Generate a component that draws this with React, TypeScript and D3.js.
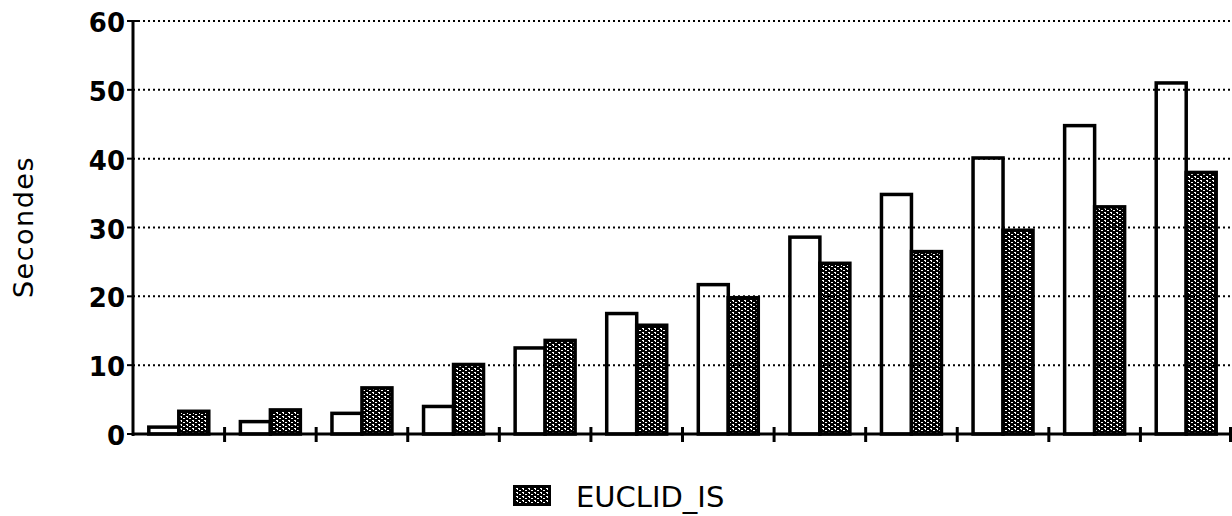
import React from "react";
import * as d3 from "d3";

const categories = ["1", "2", "3", "4", "5", "6", "7", "8", "9", "10", "11", "12"];
const seriesWhite = [1.0, 1.8, 3.0, 4.0, 12.5, 17.5, 21.7, 28.6, 34.8, 40.1, 44.8, 51.0];
const euclidIS = [3.3, 3.5, 6.7, 10.1, 13.6, 15.8, 19.8, 24.8, 26.5, 29.6, 33.0, 38.0];
const yTicks = [0, 10, 20, 30, 40, 50, 60];
const seriesKeys = ["white", "EUCLID_IS"];
const yLabel = "Secondes";
const legendLabel = "EUCLID_IS";

const W = 1232;
const H = 516;
const left = 133;
const right = 1232;
const top = 21;
const bottom = 434;

export default function App() {
  const x = d3
    .scaleBand<string>()
    .domain(categories)
    .range([left, right])
    .paddingInner(0.345)
    .paddingOuter(0.1725);
  const xi = d3.scaleBand<string>().domain(seriesKeys).range([0, x.bandwidth()]).padding(0);
  const y = d3.scaleLinear().domain([0, 60]).range([bottom, top]);
  const step = x.step();
  const font = "'DejaVu Sans', Arial, sans-serif";

  return (
    <svg
      width={W}
      height={H}
      style={{ position: "absolute", left: 0, top: 0, background: "#fff" }}
    >
      <defs>
        <pattern id="hatch" width="6" height="4" patternUnits="userSpaceOnUse">
          <rect width="6" height="4" fill="#000" />
          <rect x="0" y="0" width="2" height="1" fill="#fff" />
          <rect x="1" y="1" width="1" height="1" fill="#fff" />
          <rect x="3" y="2" width="2" height="1" fill="#fff" />
        </pattern>
      </defs>

      {/* bars */}
      {categories.map((c, i) => {
        const x0 = x(c)!;
        const bw = xi.bandwidth();
        return (
          <g key={c}>
            <rect
              x={x0 + xi("white")!}
              y={y(seriesWhite[i])}
              width={bw}
              height={bottom - y(seriesWhite[i])}
              fill="#fff"
              stroke="#000"
              strokeWidth={3.5}
            />
            <rect
              x={x0 + xi("EUCLID_IS")!}
              y={y(euclidIS[i])}
              width={bw}
              height={bottom - y(euclidIS[i])}
              fill="url(#hatch)"
              stroke="#000"
              strokeWidth={3.5}
            />
          </g>
        );
      })}

      {/* gridlines */}
      {yTicks
        .filter((t) => t > 0)
        .map((t) => (
          <line
            key={t}
            x1={left}
            x2={right}
            y1={y(t)}
            y2={y(t)}
            stroke="#000"
            strokeWidth={2}
            strokeDasharray="2 3"
          />
        ))}

      {/* y axis */}
      <line x1={left} x2={left} y1={top - 1} y2={bottom + 2} stroke="#000" strokeWidth={3} />
      {yTicks.map((t) => (
        <g key={t}>
          <line
            x1={left - 6}
            x2={t === 60 ? left + 6 : left}
            y1={y(t)}
            y2={y(t)}
            stroke="#000"
            strokeWidth={2}
          />
          <text
            x={125}
            y={y(t) + 2}
            textAnchor="end"
            dominantBaseline="central"
            fontFamily={font}
            fontWeight="bold"
            fontSize={26}
            fill="#000"
          >
            {t}
          </text>
        </g>
      ))}

      {/* x axis */}
      <line x1={left} x2={right} y1={bottom} y2={bottom} stroke="#000" strokeWidth={3} />
      {categories.map((c, i) => (
        <line
          key={"t" + c}
          x1={Math.min(left + (i + 1) * step, right - 1.5)}
          x2={Math.min(left + (i + 1) * step, right - 1.5)}
          y1={bottom - 7}
          y2={bottom + 8}
          stroke="#000"
          strokeWidth={3}
        />
      ))}

      {/* y label */}
      <text
        transform={`translate(33,227) rotate(-90)`}
        textAnchor="middle"
        fontFamily={font}
        fontSize={27}
        letterSpacing={1.5}
        fill="#000"
      >
        {yLabel}
      </text>

      {/* legend */}
      <rect x={514} y={486} width={36} height={19} fill="url(#hatch)" stroke="#000" strokeWidth={2} />
      <text x={576} y={507} fontFamily={font} fontSize={29} fill="#000">
        {legendLabel}
      </text>
    </svg>
  );
}
